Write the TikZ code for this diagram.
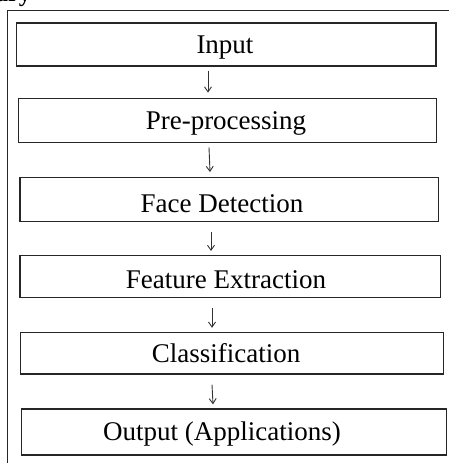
\documentclass[tikz,border=0pt]{standalone}
\usepackage{fontspec}
\setmainfont{Liberation Serif}
\usetikzlibrary{arrows.meta}
\begin{document}
\begin{tikzpicture}[x=1pt,y=-1pt,
  box/.style={draw=black!85,line width=1.4pt,inner sep=0pt},
  lbl/.style={anchor=base,inner sep=0pt,font=\fontsize{27}{31}\selectfont},
  frame/.style={draw=black!85,line width=1.3pt},
  flow/.style={draw=black!80,line width=0.9pt,-{Straight Barb[length=5pt,width=7pt]}}]
\useasboundingbox (0,0) rectangle (449,463);
% outer frame
\draw[frame] (7.3,463) -- (7.3,10.3) -- (449,10.3);
% clipped heading
\node[anchor=base west,inner sep=0pt,font=\bfseries\fontsize{24}{28}\selectfont] (hdr) at (-4,1.5) {ary};
% boxes
\node[box,minimum width=419.5pt,minimum height=43pt] (b1) at (226.2,44.5) {};
\node[box,minimum width=418.4pt,minimum height=44.4pt] (b2) at (227.5,120.5) {};
\node[box,minimum width=418.3pt,minimum height=43.9pt] (b3) at (229.1,199.7) {};
\node[box,minimum width=420.7pt,minimum height=42pt] (b4) at (230.3,276.7) {};
\node[box,minimum width=422.8pt,minimum height=41.5pt] (b5) at (231.9,353.2) {};
\node[box,minimum width=425pt,minimum height=46pt] (b6) at (234.2,432) {};
% texts
\node[lbl] (t1) at (225,53) {Input};
\node[lbl] (t2) at (226,129) {Pre-processing};
\node[lbl] (t3) at (222,212) {Face Detection};
\node[lbl] (t4) at (226,288) {Feature Extraction};
\node[lbl] (t5) at (226,362) {Classification};
\node[lbl] (t6) at (222,440) {Output (Applications)};
% arrows
\draw[flow] ([xshift=-18.2pt,yshift=-4pt]b1.south) -- ([xshift=-19.5pt,yshift=5pt]b2.north);
\draw[flow] ([xshift=-18.5pt,yshift=-4pt]b2.south) -- ([xshift=-19.1pt,yshift=5pt]b3.north);
\draw[flow] ([xshift=-18.1pt,yshift=-10pt]b3.south) -- ([xshift=-19.3pt,yshift=4pt]b4.north);
\draw[flow] ([xshift=-18.3pt,yshift=-10pt]b4.south) -- ([xshift=-19.9pt,yshift=4pt]b5.north);
\draw[flow] ([xshift=-19.9pt,yshift=-10pt]b5.south) -- ([xshift=-21.2pt,yshift=4pt]b6.north);
\end{tikzpicture}
\end{document}
